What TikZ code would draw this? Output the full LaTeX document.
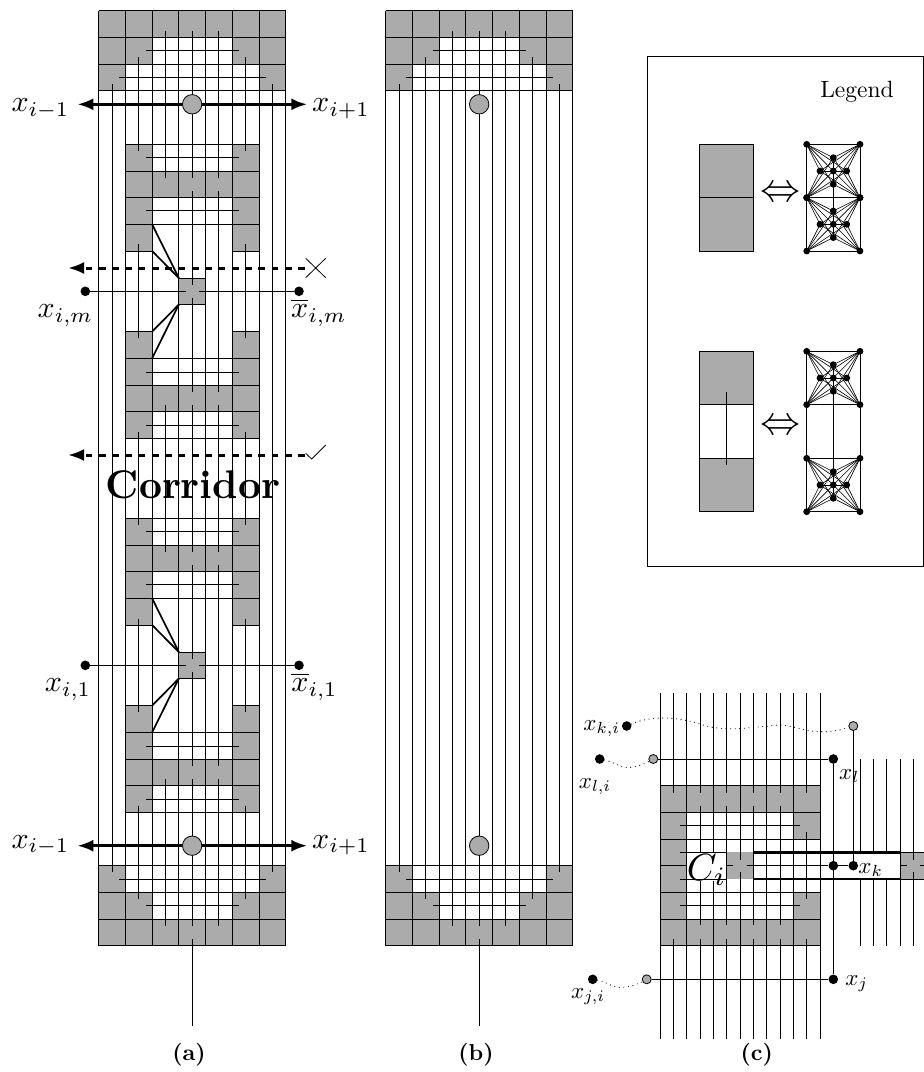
\documentclass[tikz,border=0pt]{standalone}
\usetikzlibrary{arrows.meta}
\definecolor{cellgray}{gray}{0.67}
\tikzset{
  thin line/.style={line width=0.8pt,black},
  graph line/.style={line width=0.6pt,black},
  cell/.style={fill=cellgray,draw=none},
  dotnode/.style={circle,fill=black,inner sep=0pt,minimum size=9.6pt},
  smalldot/.style={circle,fill=black,inner sep=0pt,minimum size=6.8pt},
  graycirc/.style={circle,fill=cellgray,draw=black,line width=0.8pt,inner sep=0pt,minimum size=19.4pt},
  graysmall/.style={circle,fill=cellgray,draw=black,line width=0.8pt,inner sep=0pt,minimum size=9pt},
  biglab/.style={scale=3,transform shape,anchor=base,inner sep=0pt},
  smalllab/.style={scale=2.3,transform shape,anchor=base,inner sep=0pt},
  caplab/.style={scale=2.3,transform shape,anchor=base,inner sep=0pt},
  heavyarrow/.style={line width=3.1pt,-{Latex[length=16pt,width=12pt]}},
  dasharrow/.style={line width=3pt,dash pattern=on 6.7pt off 6.6pt,-{Latex[length=16pt,width=12pt]}},
  dotcurve/.style={line width=1.1pt,line cap=round,dash pattern=on 0pt off 4.6pt},
  thickline/.style={line width=1.7pt},
  barline/.style={line width=2.6pt}
}
% vertical segments: \vs{x}{y1}{y2}
\newcommand{\vs}[3]{\draw[thin line] (#1,#2) -- (#1,#3);}
\newcommand{\hs}[3]{\draw[thin line] (#2,#1) -- (#3,#1);}
% cap of a panel (top orientation) in panel (a) coordinates
\newcommand{\capfill}{%
  \fill[cell] (98.7,10.7) rectangle (285.6,37.3);
  \fill[cell] (98.7,37.3) rectangle (152.1,64);
  \fill[cell] (232.2,37.3) rectangle (285.6,64);
  \fill[cell] (98.7,64) rectangle (125.4,90.7);
  \fill[cell] (258.9,64) rectangle (285.6,90.7);
}
\newcommand{\caplines}{%
  \hs{10.7}{98.7}{285.6}\hs{37.3}{98.7}{285.6}\hs{64}{98.7}{285.6}\hs{90.7}{98.7}{285.6}
  \hs{50.7}{145.7}{239}\hs{77.3}{119}{265.7}
}
\newcommand{\bothcaps}{%
  \capfill
  \begin{scope}[yshift=-956.4pt,yscale=-1]\capfill\end{scope}
  \caplines
  \begin{scope}[yshift=-956.4pt,yscale=-1]\caplines\end{scope}
  \foreach \k in {98.7,125.4,152.1,178.8,205.5,232.2,258.9,285.6}{\vs{\k}{10.7}{945.7}}
  \vs{192.15}{939}{1025.7}
}
% half of a corridor gadget, relative to its centre
\newcommand{\halfgadget}{%
  \fill[cell] (125.4,-147.3) rectangle (152.1,-40.3);
  \fill[cell] (232.2,-147.3) rectangle (258.9,-40.3);
  \fill[cell] (125.4,-120.3) rectangle (258.9,-93.6);
  \foreach \y in {-147.3,-120.3,-93.6,-67}{\hs{\y}{125.4}{258.9}}
  \hs{-40.3}{125.4}{152.1}\hs{-40.3}{232.2}{258.9}
  \hs{-133.6}{145.7}{239}\hs{-80.6}{145.7}{239}
  \draw[thickline] (152.1,-67) -- (178.8,-13.3);
  \draw[thickline] (152.1,-40.3) -- (178.8,-13.3);
}
\newcommand{\gadget}[1]{%
  \begin{scope}[yshift=-#1pt]
    \halfgadget
    \begin{scope}[yscale=-1]\halfgadget\end{scope}
    \fill[cell] (178.8,-13.3) rectangle (205.5,13.3);
    \hs{-13.3}{178.8}{205.5}\hs{13.3}{178.8}{205.5}
  \end{scope}
}
% one gadget graph of the legend, centre at (833.3,#1)
\newcommand{\legendgraph}[2]{%
  \begin{scope}[yshift=-#1pt]
    \coordinate (#2tl) at (806.7,-26.7);
    \coordinate (#2tr) at (860,-26.7);
    \coordinate (#2bl) at (806.7,26.7);
    \coordinate (#2br) at (860,26.7);
    \coordinate (#2t) at (833.3,-13.3);
    \coordinate (#2b) at (833.3,13.3);
    \coordinate (#2l) at (820,0);
    \coordinate (#2r) at (846.7,0);
    \coordinate (#2c) at (833.3,0);
    \foreach \a in {tl,tr,bl,br}{\foreach \e in {t,b,l,r,c}{\draw[graph line] (#2\a) -- (#2\e);}}
    \draw[thin line] (#2tl) -- (#2tr) -- (#2br) -- (#2bl) -- cycle;
    \draw[thin line] (#2l) -- (#2r);
    \draw[thin line] (#2t) -- (#2b);
    \foreach \e in {tl,tr,bl,br,t,b,l,r,c}{\node[smalldot] at (#2\e) {};}
  \end{scope}
}
\begin{document}
\begin{tikzpicture}[x=1pt,y=-1pt]
\useasboundingbox (0,0) rectangle (924,1072);

% ---------- panel (a)
\gadget{291.3}
\gadget{665.3}
\bothcaps
\foreach \k in {112.05,272.25}{\vs{\k}{84}{872.3}}
\foreach \k in {138.75,245.55}{
  \vs{\k}{57.3}{150.7}\vs{\k}{244.3}{337.7}\vs{\k}{431.7}{525}\vs{\k}{618.7}{712}\vs{\k}{805.7}{899}}
\vs{165.45}{30.7}{177.7}\vs{165.45}{405}{551.7}\vs{165.45}{779}{925.7}
\vs{192.15}{30.7}{177.7}\vs{192.15}{191}{285}\vs{192.15}{298}{391.7}\vs{192.15}{405}{551.7}
\vs{192.15}{565.3}{659}\vs{192.15}{672}{765.7}\vs{192.15}{779}{925.7}
\vs{218.85}{30.7}{177.7}\vs{218.85}{191}{391.7}\vs{218.85}{405}{551.7}\vs{218.85}{565.3}{765.7}\vs{218.85}{779}{925.7}

% gadget terminals
\node[dotnode] (am) at (85.3,291.3) {};
\node[dotnode] (ambar) at (299,291.3) {};
\node[dotnode] (aone) at (85.3,665.3) {};
\node[dotnode] (aonebar) at (299,665.3) {};
\coordinate (amL) at (185.5,291.3); \coordinate (amR) at (199,291.3);
\coordinate (aoL) at (185.5,665.3); \coordinate (aoR) at (199,665.3);
\draw[thin line] (am) -- (amL); \draw[thin line] (amR) -- (ambar);
\draw[thin line] (aone) -- (aoL); \draw[thin line] (aoR) -- (aonebar);

% heavy arrows with circles
\node[graycirc] (ctop) at (192.15,104.3) {};
\node[graycirc] (cbot) at (192.15,845.7) {};
\coordinate (tl) at (77.3,104.3); \coordinate (tr) at (307.3,104.3);
\coordinate (bl) at (77.3,845.7); \coordinate (br) at (307.3,845.7);
\draw[heavyarrow] (ctop) -- (tl); \draw[heavyarrow] (ctop) -- (tr);
\draw[heavyarrow] (cbot) -- (bl); \draw[heavyarrow] (cbot) -- (br);

% dashed arrows and marks
\coordinate (d1r) at (305,268); \coordinate (d1l) at (68,268);
\coordinate (d2r) at (305,455); \coordinate (d2l) at (68,455);
\draw[dasharrow] (d1r) -- (d1l);
\draw[dasharrow] (d2r) -- (d2l);
\draw[thin line] (305.7,258.3) -- (325.7,277.7);
\draw[thin line] (305.7,277.7) -- (325.7,258.3);
\draw[thin line] (305.7,453.3) -- (311.7,459) -- (325.7,445);

% labels of (a)
\node[biglab] (l1) at (40.5,111.7) {$x_{i-1}$};
\node[biglab] (l2) at (341,111.7) {$x_{i+1}$};
\node[biglab] (l3) at (40.5,848.3) {$x_{i-1}$};
\node[biglab] (l4) at (341,848.3) {$x_{i+1}$};
\node[biglab] (l5) at (65.5,317.7) {$x_{i,m}$};
\node[biglab] (l6) at (319,317.7) {$\overline{x}_{i,m}$};
\node[biglab] (l7) at (68,691.7) {$x_{i,1}$};
\node[biglab] (l8) at (314.5,691.7) {$\overline{x}_{i,1}$};
\node[scale=4,transform shape,anchor=base,inner sep=0pt] (corr) at (193,498) {\bfseries Corridor};
\node[caplab] (capa) at (189,1060) {\bfseries (a)};

% ---------- panel (b)
\begin{scope}[xshift=287pt]
  \bothcaps
  \foreach \k in {112.05,272.25}{\vs{\k}{84}{872.3}}
  \foreach \k in {138.75,245.55}{\vs{\k}{57.3}{899}}
  \foreach \k in {165.45,192.15,218.85}{\vs{\k}{30.7}{925.7}}
  \node[graycirc] (ctopb) at (192.15,104.3) {};
  \node[graycirc] (cbotb) at (192.15,845.7) {};
  \node[caplab] (capb) at (189,1060) {\bfseries (b)};
\end{scope}

% ---------- legend
\node[draw=black,line width=0.75pt,minimum width=276pt,minimum height=510pt,anchor=north west,inner sep=0pt] (legbox) at (647.3,56.3) {};
\node[scale=2.35,transform shape,anchor=base,inner sep=0pt] (legt) at (857,97) {Legend};
\fill[cell] (699.7,144.3) rectangle (753.3,251);
\draw[thin line] (699.7,144.3) rectangle (753.3,251);
\hs{197.7}{699.7}{753.3}
\node[scale=4,transform shape,inner sep=0pt] (eqa) at (780,194.3) {$\Leftrightarrow$};
\legendgraph{171}{ga}
\legendgraph{224.3}{gb}
\draw[thin line] (gat) -- (gbb);

\fill[cell] (699.7,351.3) rectangle (753.3,404.7);
\fill[cell] (699.7,458.3) rectangle (753.3,511.7);
\draw[thin line] (699.7,351.3) rectangle (753.3,511.7);
\hs{404.7}{699.7}{753.3}\hs{458.3}{699.7}{753.3}
\vs{726.5}{391.7}{465}
\node[scale=4,transform shape,inner sep=0pt] (eqb) at (780,427.3) {$\Leftrightarrow$};
\legendgraph{378}{gc}
\legendgraph{485}{gd}
\draw[thin line] (gct) -- (gdb);
\draw[thin line] (gcbl) -- (gdtl);
\draw[thin line] (gcbr) -- (gdtr);

% ---------- panel (c)
\fill[cell] (660,785.7) rectangle (820,812.3);
\fill[cell] (660,919) rectangle (820,945.7);
\fill[cell] (660,812.3) rectangle (686.7,919);
\fill[cell] (793.3,812.3) rectangle (820,839);
\fill[cell] (793.3,892.3) rectangle (820,919);
\fill[cell] (726.7,852.3) rectangle (753.3,879);
\fill[cell] (900,852.3) rectangle (924,879);
\foreach \y in {785.7,812.3,839,892.3,919,945.7}{\hs{\y}{660}{820}}
\hs{825.7}{680}{800}\hs{905.7}{680}{800}
\foreach \k in {660,686.7,713.3,766.7,793.3,820}{\vs{\k}{693.3}{1039}}
\foreach \k in {673.3,806.7}{\vs{\k}{693.3}{793.3}\vs{\k}{939}{1039}}
\foreach \k in {700,726.7,753.3,780}{\vs{\k}{693.3}{793.3}\vs{\k}{805.7}{925.3}\vs{\k}{939}{1039}}
\vs{806.7}{832.3}{899}
\vs{740}{693.3}{860}\vs{740}{871.7}{1039}
% right partial grid
\foreach \k in {860,873.3,886.7}{\vs{\k}{759}{852.3}\vs{\k}{879}{945.7}}
\vs{900}{759}{945.7}
\vs{913.3}{759}{860}\vs{913.3}{871.7}{945.7}
% C_i label
\fill[white] (687.1,852.7) rectangle (726.3,881);
\hs{852.3}{680}{726.7}\hs{879}{680}{726.7}
\hs{865.7}{660}{686.7}\hs{865.7}{726.7}{733.3}
\node[scale=3.8,transform shape,anchor=base,inner sep=0pt,outer sep=0pt] (ci) at (706.7,880) {$C_i$};
% band
\draw[barline] (753.3,852.3) -- (900,852.3);
\draw[barline] (753.3,879) -- (900,879);
\hs{852.3}{900}{924}\hs{879}{900}{924}
\hs{865.7}{900}{906.7}\hs{865.7}{920}{924}
% terminals
\node[graysmall] (gk) at (853.3,726) {};
\node[graysmall] (gl) at (653.3,759) {};
\node[graysmall] (gj) at (646.7,979.3) {};
\node[dotnode] (xki) at (626.7,726) {};
\node[dotnode] (xli) at (599.7,759) {};
\node[dotnode] (xji) at (592.7,979.3) {};
\node[dotnode] (xl) at (833.3,759) {};
\node[dotnode] (xj) at (833.3,979.3) {};
\node[dotnode] (xa) at (833.3,865.7) {};
\node[dotnode] (xk) at (853.3,865.7) {};
\coordinate (gadr) at (746.7,865.7);
\draw[thin line] (gadr) -- (xa) -- (xk);
\draw[thin line] (gl) -- (xl);
\draw[thin line] (gj) -- (xj);
\draw[thin line] (xl) -- (xj);
\draw[thin line] (gk) -- (xk);
\draw[dotcurve] (xki) .. controls (650,716) and (675,716) .. (700,724) .. controls (725,733) and (750,727) .. (780,725) .. controls (800,726) and (815,738) .. (gk);
\draw[dotcurve] (xli) .. controls (615,762) and (622,770) .. (632,767) .. controls (640,766) and (646,763) .. (gl);
\draw[dotcurve] (xji) .. controls (608,982) and (615,990) .. (625,987) .. controls (633,986) and (640,983) .. (gj);
\node[smalllab] (lki) at (601.7,730) {$x_{k,i}$};
\node[smalllab] (lli) at (595,788) {$x_{l,i}$};
\node[smalllab] (ll) at (849.3,779) {$x_l$};
\node[smalllab] (lk) at (870.7,873) {$x_k$};
\node[smalllab] (lj) at (856.7,985) {$x_j$};
\node[smalllab] (lji) at (588,998) {$x_{j,i}$};
\node[caplab] (capc) at (756.7,1060) {\bfseries (c)};
\end{tikzpicture}
\end{document}
